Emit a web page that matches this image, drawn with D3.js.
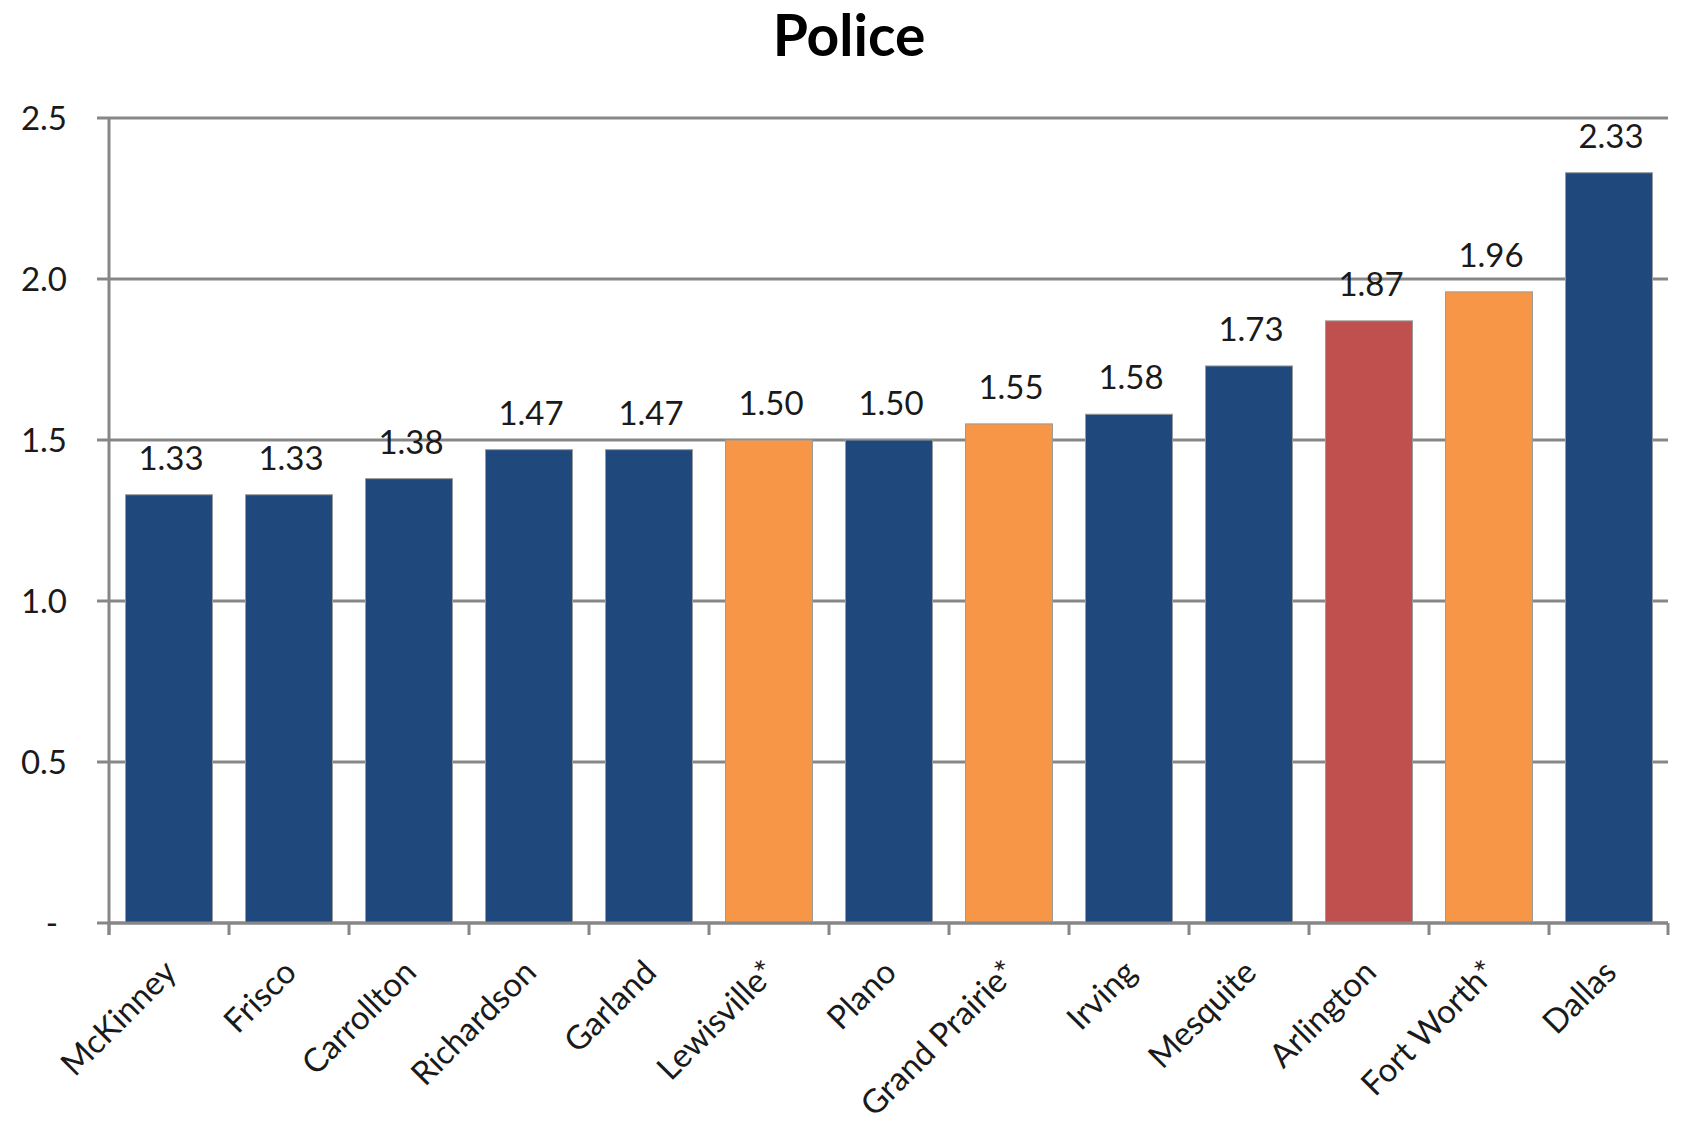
<!DOCTYPE html>
<html>
<head>
<meta charset="utf-8">
<script src="https://cdn.jsdelivr.net/npm/d3@7"></script>
<style>
  html, body { margin: 0; padding: 0; background: #fff; }
  svg { display: block; }
  text { font-family: Lato, "Open Sans", sans-serif; fill: #1a1a1a; }
</style>
</head>
<body>
<svg id="chart" width="1681" height="1123"></svg>
<script>
const categories = ["McKinney", "Frisco", "Carrollton", "Richardson", "Garland", "Lewisville*", "Plano", "Grand Prairie*", "Irving", "Mesquite", "Arlington", "Fort Worth*", "Dallas"];
const values = [1.33, 1.33, 1.38, 1.47, 1.47, 1.50, 1.50, 1.55, 1.58, 1.73, 1.87, 1.96, 2.33];
const groups = ["core", "core", "core", "core", "core", "star", "core", "star", "core", "core", "highlight", "star", "core"];
const yTicks = [0, 0.5, 1.0, 1.5, 2.0, 2.5];
const yTickLabels = ["-", "0.5", "1.0", "1.5", "2.0", "2.5"];
const title = "Police";

const colors = { core: "#1F497D", star: "#F79646", highlight: "#C0504D" };

const svg = d3.select("#chart");
const plotLeft = 109, plotRight = 1669, plotTop = 118, plotBottom = 923;

const x = d3.scaleBand().domain(categories).range([plotLeft, plotRight]).paddingInner(0.275).paddingOuter(0.1375);
const y = d3.scaleLinear().domain([0, 2.5]).range([plotBottom, plotTop]);

// title
svg.append("text")
  .attr("x", 849).attr("y", 56)
  .attr("text-anchor", "middle")
  .style("font-size", "57px").style("font-weight", "bold").style("fill", "#000")
  .text(title);

const gridColor = "#878787";
// gridlines
svg.append("g").selectAll("line").data(yTicks).join("line")
  .attr("x1", plotLeft - 12).attr("x2", plotRight - 1)
  .attr("y1", d => y(d)).attr("y2", d => y(d))
  .attr("stroke", gridColor).attr("stroke-width", 3);

// y tick labels
svg.append("g").selectAll("text").data(yTicks).join("text")
  .attr("x", d => d === 0 ? 58 : 67)
  .attr("y", d => y(d))
  .attr("dy", "0.35em")
  .attr("text-anchor", "end")
  .style("font-size", "33px")
  .text((d, i) => yTickLabels[i]);

// bars
svg.append("g").selectAll("rect").data(categories).join("rect")
  .attr("x", d => x(d))
  .attr("width", x.bandwidth())
  .attr("y", (d, i) => y(values[i]))
  .attr("height", (d, i) => plotBottom - y(values[i]))
  .attr("fill", (d, i) => colors[groups[i]])
  .attr("stroke", "#9a9a9a").attr("stroke-width", 1);

// y axis line
svg.append("line")
  .attr("x1", plotLeft).attr("x2", plotLeft)
  .attr("y1", plotTop).attr("y2", plotBottom + 12)
  .attr("stroke", gridColor).attr("stroke-width", 3);

// x axis line
svg.append("line")
  .attr("x1", plotLeft).attr("x2", plotRight - 1)
  .attr("y1", plotBottom).attr("y2", plotBottom)
  .attr("stroke", gridColor).attr("stroke-width", 3);

// x ticks at band boundaries
svg.append("g").selectAll("line").data(d3.range(categories.length + 1)).join("line")
  .attr("x1", i => Math.min(plotLeft + i * x.step(), plotRight - 1))
  .attr("x2", i => Math.min(plotLeft + i * x.step(), plotRight - 1))
  .attr("y1", plotBottom).attr("y2", plotBottom + 12)
  .attr("stroke", gridColor).attr("stroke-width", 3);

// value labels
svg.append("g").selectAll("text").data(categories).join("text")
  .attr("x", d => x(d) + x.bandwidth() / 2 + 2)
  .attr("y", (d, i) => y(values[i]) - 25)
  .attr("text-anchor", "middle")
  .style("font-size", "33px")
  .text((d, i) => values[i].toFixed(2));

// x labels rotated
svg.append("g").selectAll("text").data(categories).join("text")
  .attr("transform", d => `translate(${x(d) + x.bandwidth() / 2 - 7},${plotBottom + 35}) rotate(-45)`)
  .attr("text-anchor", "end")
  .attr("dy", "0.7em")
  .style("font-size", "33px")
  .text(d => d);
</script>
</body>
</html>
